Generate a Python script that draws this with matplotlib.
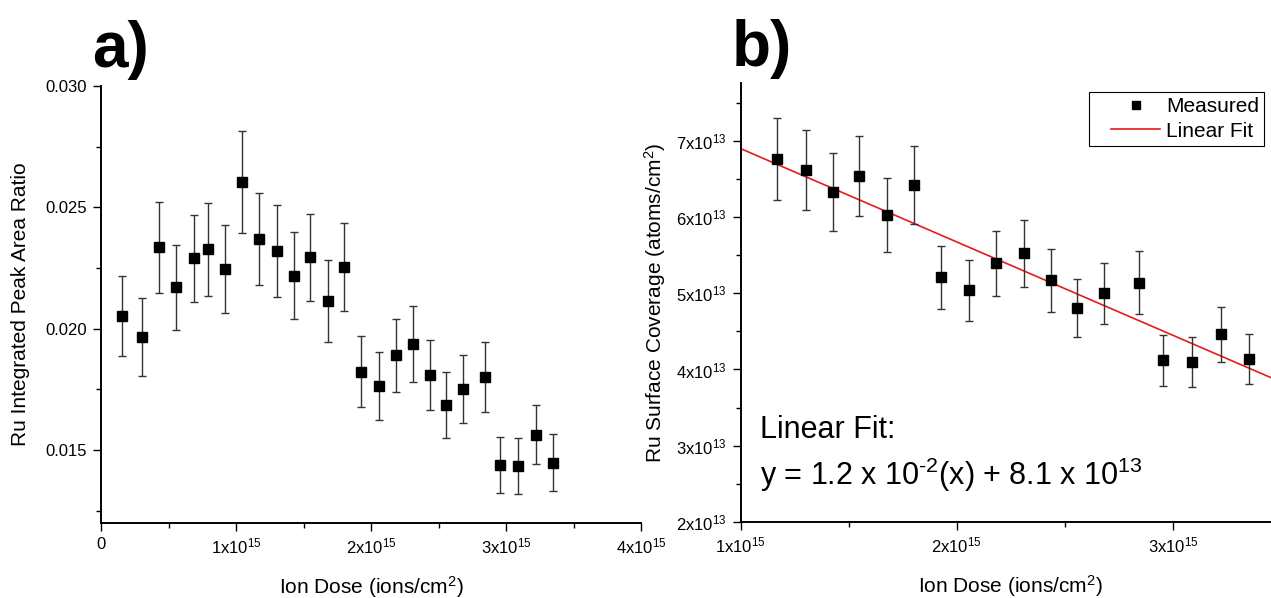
import matplotlib
matplotlib.use('Agg')
import matplotlib.pyplot as plt
from matplotlib.ticker import FixedLocator, FixedFormatter, AutoMinorLocator
from matplotlib.lines import Line2D
from matplotlib.legend_handler import HandlerLine2D

plt.rcParams['font.family'] = ['Liberation Sans', 'DejaVu Sans']
plt.rcParams['mathtext.fontset'] = 'custom'
plt.rcParams['mathtext.rm'] = 'Liberation Sans'
plt.rcParams['mathtext.it'] = 'Liberation Sans:italic'
plt.rcParams['mathtext.bf'] = 'Liberation Sans:bold'

# ---------------- data ----------------
dose = [0.152e15, 0.306e15, 0.427e15, 0.555e15, 0.691e15, 0.794e15, 0.915e15, 1.045e15,
        1.167e15, 1.303e15, 1.428e15, 1.550e15, 1.678e15, 1.800e15, 1.927e15, 2.056e15,
        2.183e15, 2.309e15, 2.436e15, 2.557e15, 2.682e15, 2.844e15, 2.955e15, 3.087e15,
        3.221e15, 3.350e15]

peak_ratio = [0.02053, 0.01966, 0.02336, 0.02172, 0.02290, 0.02327, 0.02246, 0.02605,
              0.02371, 0.02319, 0.02219, 0.02294, 0.02115, 0.02254, 0.01824, 0.01766,
              0.01891, 0.01937, 0.01810, 0.01686, 0.01751, 0.01801, 0.01440, 0.01436,
              0.01564, 0.01448]
peak_ratio_err = [0.00166, 0.00160, 0.00187, 0.00175, 0.00180, 0.00190, 0.00180, 0.00210,
                  0.00190, 0.00190, 0.00180, 0.00180, 0.00170, 0.00180, 0.00147, 0.00140,
                  0.00150, 0.00155, 0.00145, 0.00135, 0.00140, 0.00145, 0.00115, 0.00115,
                  0.00120, 0.00117]

coverage_dose = dose[8:]
coverage = [6.756e13, 6.612e13, 6.331e13, 6.537e13, 6.021e13, 6.419e13, 5.207e13, 5.041e13,
            5.391e13, 5.526e13, 5.168e13, 4.808e13, 4.997e13, 5.139e13, 4.118e13, 4.096e13,
            4.459e13, 4.135e13]
coverage_err = [0.54e13, 0.525e13, 0.51e13, 0.525e13, 0.485e13, 0.515e13, 0.415e13, 0.40e13,
                0.43e13, 0.44e13, 0.41e13, 0.38e13, 0.40e13, 0.41e13, 0.33e13, 0.325e13,
                0.355e13, 0.33e13]

fit_slope = -1.224e-2
fit_intercept = 8.12e13

a_xticks = [0, 1e15, 2e15, 3e15, 4e15]
a_xticklabels = ['0', '1x10$^{15}$', '2x10$^{15}$', '3x10$^{15}$', '4x10$^{15}$']
a_yticks = [0.015, 0.020, 0.025, 0.030]
a_yticklabels = ['0.015', '0.020', '0.025', '0.030']

b_xticks = [1e15, 2e15, 3e15]
b_xticklabels = ['1x10$^{15}$', '2x10$^{15}$', '3x10$^{15}$']
b_yticks = [2e13, 3e13, 4e13, 5e13, 6e13, 7e13]
b_yticklabels = ['2x10$^{13}$', '3x10$^{13}$', '4x10$^{13}$', '5x10$^{13}$',
                 '6x10$^{13}$', '7x10$^{13}$']

xlabel = 'Ion Dose (ions/cm$^2$)'
a_ylabel = 'Ru Integrated Peak Area Ratio'
b_ylabel = 'Ru Surface Coverage (atoms/cm$^2$)'
fit_title = 'Linear Fit:'
fit_equation = r'y = 1.2 x 10$^{\text{-}2}$(x) + 8.1 x 10$^{13}$'

# ---------------- figure ----------------
W, H = 1271, 598
fig = plt.figure(figsize=(W / 100, H / 100), dpi=100)

ax_a = fig.add_axes([101 / W, 1 - 523 / H, 540 / W, (523 - 86) / H])
ax_b = fig.add_axes([740.6 / W, 1 - 522 / H, 540.4 / W, (522 - 82.7) / H])

err_color = '#333333'


def style(ax, xt, xtl, yt, ytl):
    for s in ['top', 'right']:
        ax.spines[s].set_visible(False)
    for s in ['left', 'bottom']:
        ax.spines[s].set_linewidth(1.4)
    ax.xaxis.set_major_locator(FixedLocator(xt))
    ax.xaxis.set_major_formatter(FixedFormatter(xtl))
    ax.yaxis.set_major_locator(FixedLocator(yt))
    ax.yaxis.set_major_formatter(FixedFormatter(ytl))
    ax.xaxis.set_minor_locator(AutoMinorLocator(2))
    ax.yaxis.set_minor_locator(AutoMinorLocator(2))
    ax.tick_params(which='major', direction='out', length=6, width=1.0,
                   labelsize=12, pad=4)
    ax.tick_params(which='minor', direction='out', length=3.5, width=1.0)


# ---- panel a ----
ax_a.errorbar(dose, peak_ratio, yerr=peak_ratio_err, fmt='none', ecolor=err_color,
              elinewidth=1.0, capsize=3.1, capthick=1.0, zorder=2)
ax_a.plot(dose, peak_ratio, 's', color='black', markersize=6.5, zorder=3)
ax_a.set_xlim(0, 4e15)
ax_a.set_ylim(0.012, 0.030)
style(ax_a, a_xticks, a_xticklabels, a_yticks, a_yticklabels)
ax_a.set_xlabel(xlabel, fontsize=15)
ax_a.set_ylabel(a_ylabel, fontsize=15)
ax_a.xaxis.set_label_coords(0.5, -0.117)
ax_a.yaxis.set_label_coords(-0.131, 0.5)

# ---- panel b ----
fit_line = ax_b.axline((0, fit_intercept), slope=fit_slope, color='#e8191e', lw=1.2,
                       zorder=1, label='Linear Fit')
ax_b.errorbar(coverage_dose, coverage, yerr=coverage_err, fmt='none', ecolor=err_color,
              elinewidth=1.0, capsize=3.1, capthick=1.0, zorder=2)
meas, = ax_b.plot(coverage_dose, coverage, 's', color='black', markersize=6.5, zorder=3,
                  label='Measured')
ax_b.set_xlim(1e15, 3.5e15)
ax_b.set_ylim(2e13, 7.76e13)
style(ax_b, b_xticks, b_xticklabels, b_yticks, b_yticklabels)
ax_b.set_xlabel(xlabel, fontsize=15)
ax_b.set_ylabel(b_ylabel, fontsize=15)
ax_b.xaxis.set_label_coords(0.5, -0.116)
ax_b.yaxis.set_label_coords(-0.134, 0.5)

leg = ax_b.legend(handles=[meas, fit_line], loc='upper right',
                  bbox_to_anchor=(0.9686, 0.9795), borderaxespad=0, fontsize=15,
                  frameon=True, fancybox=False, edgecolor='black', framealpha=1,
                  borderpad=0.25, labelspacing=0.28, handlelength=3.16,
                  handletextpad=0.29, markerscale=0.8,
                  handler_map={Line2D: HandlerLine2D(xpad=0.84)})
leg.get_frame().set_linewidth(0.8)

ax_b.text(0.0359, 0.191, fit_title, transform=ax_b.transAxes, fontsize=22,
          va='baseline', ha='left')
ax_b.text(0.0359, 0.0842, fit_equation, transform=ax_b.transAxes, fontsize=22,
          va='baseline', ha='left')

# ---- panel letters ----
fig.text(92 / W, 1 - 67 / H, 'a)', fontsize=46, fontweight='bold', va='baseline', ha='left')
fig.text(732 / W, 1 - 66 / H, 'b)', fontsize=46, fontweight='bold', va='baseline', ha='left')

fig.savefig('out.png', dpi=100)
